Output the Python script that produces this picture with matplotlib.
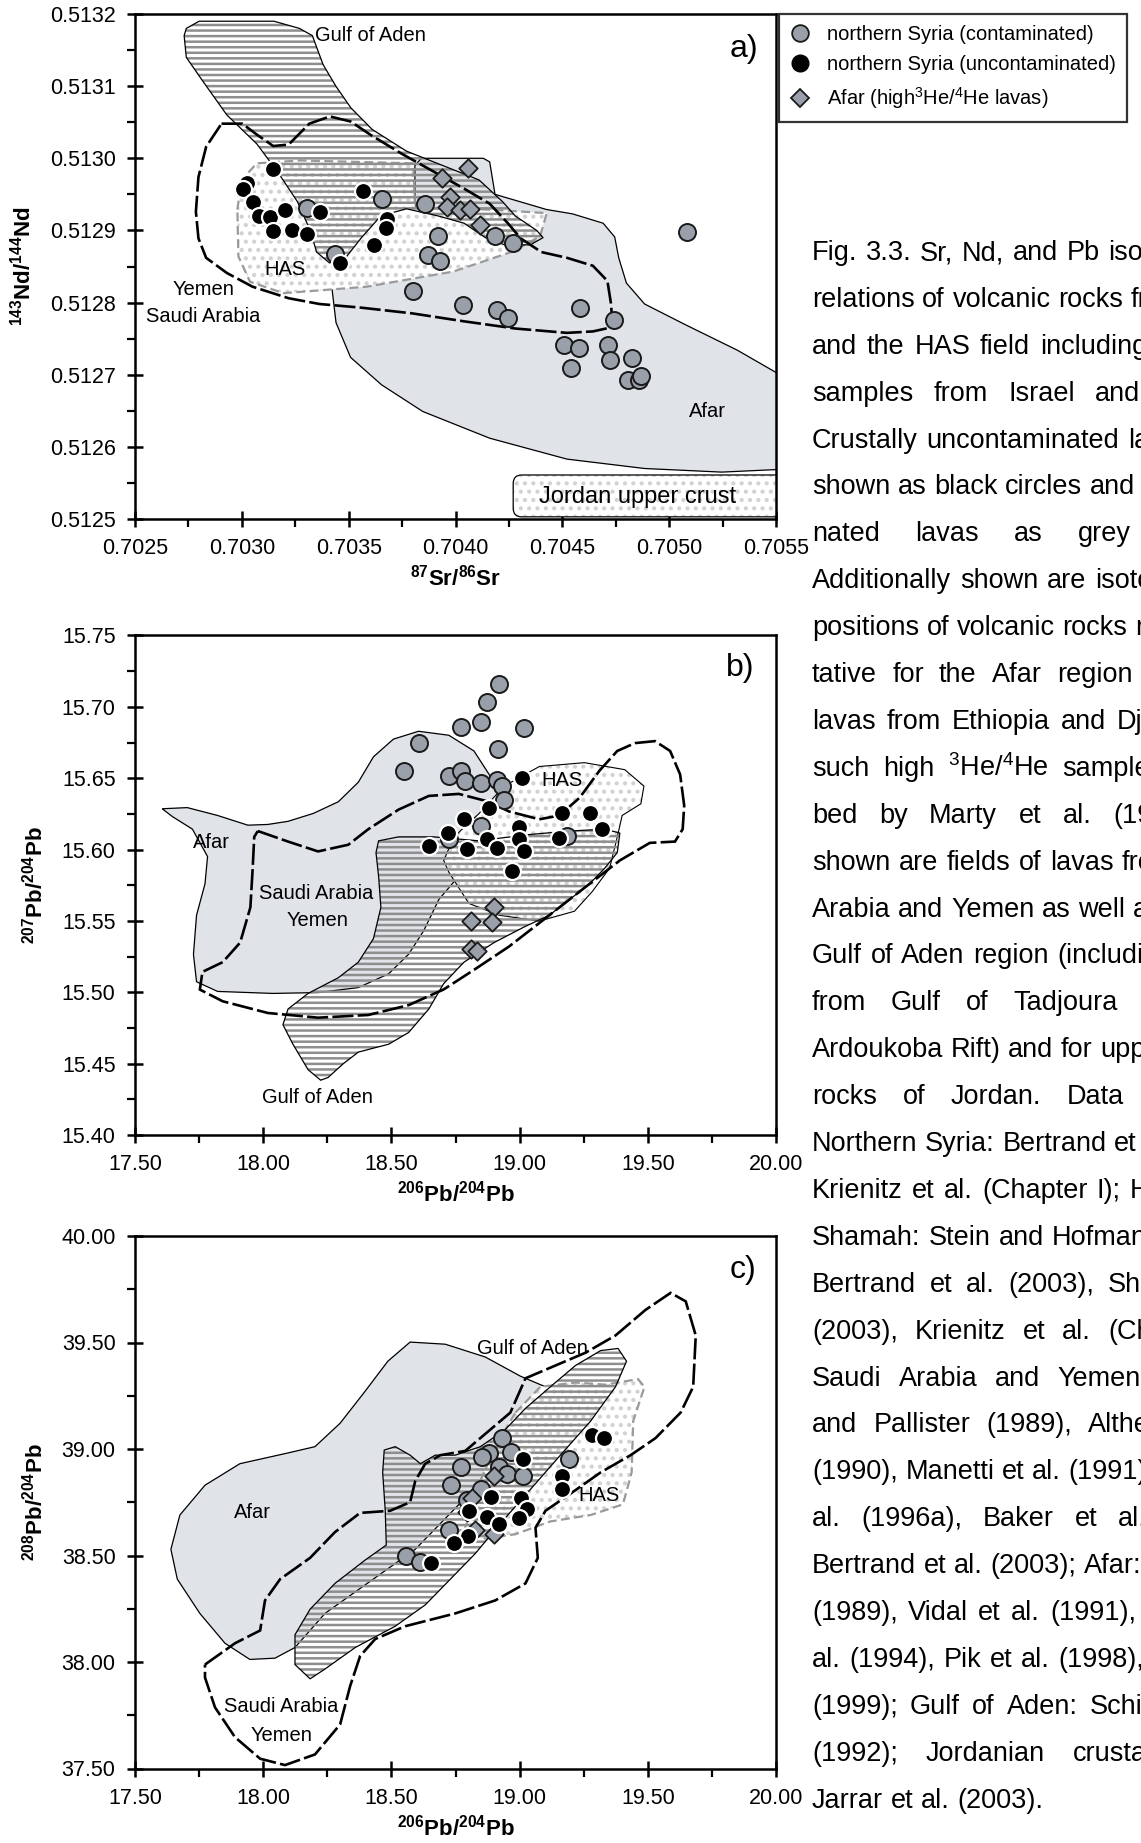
import matplotlib
matplotlib.use('Agg')
import matplotlib.pyplot as plt
from matplotlib.patches import Polygon, FancyBboxPatch
from matplotlib.lines import Line2D
from matplotlib.ticker import MultipleLocator, FormatStrFormatter

plt.rcParams['font.family'] = ['Liberation Sans', 'DejaVu Sans']
plt.rcParams['mathtext.fontset'] = 'custom'
plt.rcParams['mathtext.rm'] = 'Liberation Sans'
plt.rcParams['mathtext.it'] = 'Liberation Sans:italic'
plt.rcParams['mathtext.bf'] = 'Liberation Sans:bold'
plt.rcParams['hatch.linewidth'] = 1.8

# ---------------- a) 87Sr/86Sr vs 143Nd/144Nd ----------------
a_grey_sr = [0.703304, 0.703655, 0.703436, 0.703857, 0.703919, 0.703873, 0.703927,
             0.704185, 0.704270, 0.703800, 0.704037, 0.704196, 0.704247, 0.704510,
             0.704583, 0.704740, 0.704576, 0.704542, 0.704716, 0.704723, 0.704824,
             0.704807, 0.704860, 0.704868, 0.705085]
a_grey_nd = [0.512931, 0.512943, 0.512868, 0.512936, 0.512892, 0.512866, 0.512857,
             0.512892, 0.512882, 0.512816, 0.512797, 0.512790, 0.512779, 0.512741,
             0.512792, 0.512776, 0.512737, 0.512710, 0.512741, 0.512721, 0.512723,
             0.512693, 0.512692, 0.512698, 0.512898]
a_black_sr = [0.703144, 0.703026, 0.703007, 0.703051, 0.703082, 0.703132, 0.703202,
              0.703366, 0.703144, 0.703233, 0.703306, 0.703569, 0.703681, 0.703675,
              0.703619, 0.703459]
a_black_nd = [0.512985, 0.512966, 0.512957, 0.512940, 0.512920, 0.512919, 0.512929,
              0.512925, 0.512899, 0.512901, 0.512895, 0.512955, 0.512916, 0.512903,
              0.512880, 0.512855]
a_afar_sr = [0.704060, 0.703935, 0.703975, 0.703960, 0.704020, 0.704070, 0.704115]
a_afar_nd = [0.512987, 0.512972, 0.512946, 0.512933, 0.512929, 0.512930, 0.512908]

a_field_afar = [(0.703424, 0.512814), (0.703441, 0.512772), (0.703509, 0.512724), (0.703654, 0.512686),
                (0.703847, 0.512649), (0.704160, 0.512612), (0.704522, 0.512583), (0.704885, 0.512570),
                (0.705246, 0.512565), (0.705536, 0.512569), (0.705536, 0.512697), (0.705319, 0.512734),
                (0.705078, 0.512769), (0.704885, 0.512798), (0.704800, 0.512827), (0.704764, 0.512862),
                (0.704745, 0.512891), (0.704691, 0.512910), (0.704547, 0.512923), (0.704426, 0.512929),
                (0.704185, 0.512950), (0.704160, 0.512995), (0.704130, 0.513000), (0.703840, 0.513000),
                (0.703810, 0.512990), (0.703810, 0.512900), (0.703412, 0.512851)]
a_field_has = [(0.702979, 0.512929), (0.702999, 0.512970), (0.703070, 0.512993), (0.703272, 0.512997),
               (0.703802, 0.512993), (0.703810, 0.512931), (0.704146, 0.512929), (0.704427, 0.512924),
               (0.704396, 0.512892), (0.704270, 0.512871), (0.703990, 0.512843), (0.703584, 0.512822),
               (0.703194, 0.512813), (0.703038, 0.512829), (0.702984, 0.512864)]
a_field_gulf = [(0.70274, 0.51318), (0.70280, 0.51319), (0.70295, 0.51319), (0.70315, 0.51319),
                (0.70327, 0.51318), (0.70333, 0.51317), (0.70338, 0.51313), (0.70344, 0.51310),
                (0.70351, 0.51307), (0.70361, 0.51304), (0.70377, 0.51301), (0.70394, 0.51299),
                (0.70411, 0.51297), (0.70422, 0.51294), (0.70428, 0.51292), (0.70438, 0.51290),
                (0.70441, 0.51289), (0.70435, 0.51288), (0.70423, 0.51288), (0.70414, 0.51289),
                (0.70404, 0.51291), (0.70392, 0.51292), (0.70377, 0.51293), (0.70365, 0.51292),
                (0.70356, 0.51289), (0.70348, 0.51286), (0.70341, 0.512855), (0.70335, 0.51287),
                (0.70332, 0.51290), (0.70326, 0.51294), (0.70317, 0.51298), (0.70307, 0.51302),
                (0.70293, 0.51306), (0.70281, 0.51311), (0.70274, 0.51314), (0.70273, 0.51317)]
a_field_sa = [(0.702905, 0.513048), (0.703002, 0.513048), (0.703074, 0.513032), (0.703147, 0.513017),
              (0.703219, 0.513019), (0.703316, 0.513048), (0.703412, 0.513058), (0.703509, 0.513051),
              (0.703605, 0.513032), (0.703750, 0.513006), (0.703895, 0.512982), (0.704040, 0.512958),
              (0.704160, 0.512937), (0.704245, 0.512910), (0.704305, 0.512889), (0.704402, 0.512870),
              (0.704522, 0.512862), (0.704643, 0.512851), (0.704711, 0.512830), (0.704728, 0.512798),
              (0.704735, 0.512766), (0.704643, 0.512760), (0.704522, 0.512758), (0.704281, 0.512764),
              (0.704040, 0.512774), (0.703798, 0.512785), (0.703557, 0.512793), (0.703364, 0.512798),
              (0.703219, 0.512806), (0.703050, 0.512822), (0.702930, 0.512841), (0.702833, 0.512862),
              (0.702797, 0.512889), (0.702785, 0.512926), (0.702797, 0.512974), (0.702833, 0.513016)]
a_jordan = (0.70427, 0.512503, 0.00130, 0.000058)

# ---------------- b) 206Pb/204Pb vs 207Pb/204Pb ----------------
b_grey_206 = [18.920, 18.871, 18.851, 18.773, 19.018, 18.606, 18.916, 18.548, 18.724,
              18.773, 18.787, 18.851, 18.910, 18.930, 18.940, 18.851, 18.724, 19.185]
b_grey_207 = [15.7157, 15.7034, 15.6897, 15.6856, 15.6850, 15.6746, 15.6705, 15.6549, 15.6513,
              15.6554, 15.6478, 15.6467, 15.6486, 15.6445, 15.6350, 15.6165, 15.6075, 15.6094]
b_black_206 = [18.646, 18.720, 18.783, 18.793, 18.881, 18.871, 18.910, 18.999,
               18.999, 19.018, 18.969, 19.008, 19.165, 19.155, 19.273, 19.322]
b_black_207 = [15.6028, 15.6116, 15.6217, 15.6001, 15.6294, 15.6075, 15.6012, 15.6157,
               15.6075, 15.5993, 15.5847, 15.6500, 15.6258, 15.6080, 15.6258, 15.6143]
b_afar_206 = [18.900, 18.812, 18.891, 18.812, 18.832]
b_afar_207 = [15.560, 15.550, 15.549, 15.530, 15.529]

b_field_afar = [(17.606, 15.6286), (17.704, 15.6294), (17.822, 15.6239), (17.940, 15.6171), (18.018, 15.6176),
                (18.097, 15.6198), (18.195, 15.6253), (18.293, 15.6335), (18.371, 15.6472), (18.430, 15.6650),
                (18.508, 15.6774), (18.606, 15.6829), (18.724, 15.6801), (18.822, 15.6691), (18.881, 15.6527),
                (18.940, 15.6363), (18.979, 15.6198), (18.959, 15.6061), (18.881, 15.5951), (18.763, 15.5814),
                (18.685, 15.5650), (18.626, 15.5431), (18.567, 15.5266), (18.489, 15.5129), (18.371, 15.5033),
                (18.214, 15.4998), (18.038, 15.4992), (17.822, 15.5006), (17.740, 15.5074), (17.728, 15.5266),
                (17.740, 15.5540), (17.773, 15.5760), (17.783, 15.5951), (17.724, 15.6143), (17.646, 15.6231)]
b_field_has = [(18.704, 15.5924), (18.744, 15.6089), (18.842, 15.6253), (18.940, 15.6445), (19.077, 15.6582),
               (19.253, 15.6609), (19.410, 15.6560), (19.485, 15.6445), (19.473, 15.6321), (19.400, 15.6239),
               (19.381, 15.6089), (19.351, 15.5869), (19.283, 15.5705), (19.214, 15.5568), (19.077, 15.5499),
               (18.920, 15.5540), (18.802, 15.5623), (18.753, 15.5760), (18.724, 15.5842)]
b_field_gulf = [(18.450, 15.6061), (18.528, 15.6089), (18.665, 15.6089), (18.842, 15.6061), (19.018, 15.6102),
                (19.195, 15.6130), (19.332, 15.6143), (19.391, 15.6116), (19.381, 15.5979), (19.332, 15.5869),
                (19.273, 15.5760), (19.195, 15.5650), (19.116, 15.5540), (19.018, 15.5458), (18.900, 15.5348),
                (18.783, 15.5211), (18.704, 15.5061), (18.646, 15.4883), (18.567, 15.4718), (18.489, 15.4636),
                (18.371, 15.4581), (18.312, 15.4499), (18.253, 15.4403), (18.224, 15.4384), (18.175, 15.4458),
                (18.116, 15.4636), (18.077, 15.4773), (18.097, 15.4883), (18.175, 15.4992), (18.293, 15.5102),
                (18.371, 15.5211), (18.430, 15.5376), (18.459, 15.5595), (18.450, 15.5814), (18.440, 15.5979)]
b_field_sa = [(17.979, 15.6130), (18.097, 15.6056), (18.214, 15.5987), (18.332, 15.6034), (18.410, 15.6143),
              (18.528, 15.6280), (18.646, 15.6376), (18.763, 15.6390), (18.881, 15.6335), (18.959, 15.6267),
              (19.077, 15.6212), (19.155, 15.6239), (19.234, 15.6363), (19.312, 15.6554), (19.381, 15.6691),
              (19.450, 15.6746), (19.528, 15.6760), (19.587, 15.6691), (19.626, 15.6527), (19.642, 15.6308),
              (19.636, 15.6143), (19.606, 15.6056), (19.508, 15.6047), (19.391, 15.5924), (19.253, 15.5732),
              (19.116, 15.5540), (18.959, 15.5321), (18.822, 15.5157), (18.704, 15.5020), (18.567, 15.4910),
              (18.410, 15.4841), (18.214, 15.4822), (18.018, 15.4855), (17.842, 15.4937), (17.753, 15.5019),
              (17.763, 15.5143), (17.842, 15.5211), (17.910, 15.5348), (17.950, 15.5595), (17.959, 15.5869),
              (17.965, 15.6089)]

# ---------------- c) 206Pb/204Pb vs 208Pb/204Pb ----------------
c_grey_206 = [18.930, 18.881, 18.855, 18.968, 18.773, 18.920, 18.949, 19.012,
              18.734, 18.851, 19.193, 18.793, 18.724, 18.558, 18.613]
c_grey_208 = [39.051, 38.981, 38.961, 38.987, 38.915, 38.915, 38.881, 38.871,
              38.830, 38.810, 38.951, 38.760, 38.620, 38.499, 38.469]
c_black_206 = [19.012, 18.890, 19.004, 19.027, 18.998, 18.803, 18.871, 18.920,
               18.797, 18.744, 18.656, 19.164, 19.164, 19.281, 19.330]
c_black_208 = [38.955, 38.774, 38.770, 38.720, 38.674, 38.710, 38.680, 38.650,
               38.590, 38.560, 38.463, 38.871, 38.814, 39.067, 39.051]
c_afar_206 = [18.900, 18.816, 18.793, 18.828, 18.900]
c_afar_208 = [38.875, 38.770, 38.706, 38.620, 38.600]

c_field_afar = [(18.095, 38.981), (18.202, 39.011), (18.300, 39.121), (18.398, 39.272), (18.486, 39.412),
                (18.573, 39.502), (18.710, 39.492), (18.866, 39.432), (19.003, 39.342), (19.140, 39.272),
                (19.101, 39.171), (18.984, 39.051), (18.886, 38.911), (18.788, 38.770), (18.691, 38.650),
                (18.593, 38.529), (18.476, 38.429), (18.359, 38.329), (18.241, 38.228), (18.124, 38.068),
                (18.046, 38.018), (17.948, 38.012), (17.851, 38.088), (17.753, 38.228), (17.665, 38.389),
                (17.640, 38.529), (17.675, 38.690), (17.773, 38.830), (17.909, 38.931)]
c_field_has = [(18.984, 39.171), (19.081, 39.292), (19.218, 39.312), (19.335, 39.302), (19.462, 39.328),
               (19.487, 39.292), (19.443, 39.131), (19.437, 38.890), (19.403, 38.740), (19.277, 38.690),
               (19.120, 38.660), (18.984, 38.600), (18.866, 38.579), (18.788, 38.630), (18.847, 38.850),
               (18.905, 39.011)]
c_field_gulf = [(18.183, 37.921), (18.241, 37.967), (18.359, 38.068), (18.515, 38.168), (18.632, 38.268),
                (18.730, 38.389), (18.827, 38.509), (18.925, 38.650), (19.042, 38.810), (19.159, 38.971),
                (19.277, 39.131), (19.374, 39.292), (19.417, 39.412), (19.384, 39.472), (19.316, 39.462),
                (19.218, 39.392), (19.120, 39.292), (19.023, 39.191), (18.944, 39.091), (18.847, 39.011),
                (18.749, 38.971), (18.671, 38.971), (18.613, 38.931), (18.573, 38.971), (18.515, 39.011),
                (18.472, 38.995), (18.466, 38.890), (18.476, 38.710), (18.480, 38.549), (18.398, 38.479),
                (18.280, 38.369), (18.183, 38.248), (18.124, 38.128), (18.124, 37.988)]
c_field_sa = [(17.773, 37.988), (17.890, 38.088), (17.988, 38.148), (18.007, 38.289), (18.066, 38.389),
              (18.183, 38.489), (18.280, 38.610), (18.378, 38.700), (18.495, 38.710), (18.573, 38.750),
              (18.593, 38.850), (18.632, 38.931), (18.691, 38.971), (18.788, 38.991), (18.964, 39.171),
              (19.023, 39.332), (19.140, 39.392), (19.257, 39.452), (19.374, 39.533), (19.491, 39.653),
              (19.589, 39.733), (19.648, 39.693), (19.687, 39.533), (19.677, 39.292), (19.628, 39.171),
              (19.530, 39.051), (19.433, 38.971), (19.316, 38.890), (19.198, 38.790), (19.101, 38.710),
              (19.062, 38.630), (19.071, 38.489), (19.023, 38.369), (18.905, 38.289), (18.749, 38.228),
              (18.554, 38.168), (18.437, 38.108), (18.378, 38.028), (18.339, 37.887), (18.300, 37.707),
              (18.202, 37.566), (18.085, 37.516), (17.988, 37.546), (17.890, 37.647), (17.812, 37.787),
              (17.773, 37.927)]

legend_labels = ['northern Syria (contaminated)', 'northern Syria (uncontaminated)',
                 'Afar (high$^{3}$He/$^{4}$He lavas)']

caption = [
    ('Fig. 3.3. Sr, Nd, and Pb isotope', 1108),
    ('relations of volcanic rocks from', 1127),
    ('and the HAS field including', 1040),
    ('samples from Israel and', 1095),
    ('Crustally uncontaminated lavas', 1128),
    ('shown as black circles and', 1087),
    ('nated lavas as grey', 1078),
    ('Additionally shown are isotope', 1095),
    ('positions of volcanic rocks representative', 1133),
    ('tative for the Afar region', 1057),
    ('lavas from Ethiopia and Djibouti', 1117),
    ('such high $^{3}$He/$^{4}$He samples', 1062),
    ('bed by Marty et al. (1996)', 1113),
    ('shown are fields of lavas from', 1122),
    ('Arabia and Yemen as well as', 1127),
    ('Gulf of Aden region (including', 1057),
    ('from Gulf of Tadjoura', 1013),
    ('Ardoukoba Rift) and for upper', 1100),
    ('rocks of Jordan. Data', 1067),
    ('Northern Syria: Bertrand et al.', 1128),
    ('Krienitz et al. (Chapter I); HAS', 1130),
    ('Shamah: Stein and Hofmann', 1052),
    ('Bertrand et al. (2003), Shaw', 1108),
    ('(2003), Krienitz et al. (Chapter', 1108),
    ('Saudi Arabia and Yemen', 1057),
    ('and Pallister (1989), Altherr', 1088),
    ('(1990), Manetti et al. (1991),', 1063),
    ('al. (1996a), Baker et al.', 1118),
    ('Bertrand et al. (2003); Afar: Hart', 1138),
    ('(1989), Vidal et al. (1991),', 1050),
    ('al. (1994), Pik et al. (1998),', 1058),
    ('(1999); Gulf of Aden: Schilling', 1090),
    ('(1992); Jordanian crustal', 1073),
    ('Jarrar et al. (2003).', None),
]

GREY_PT = '#9aa0a9'
AFAR_FILL = '#e0e3e8'
STRIPE = '#8e8e8e'
STIPPLE = '#d2d2d2'
W, H = 1141, 1843

fig = plt.figure(figsize=(W / 100, H / 100), dpi=100)


def add_axes(top, bottom, left=135, right=776):
    return fig.add_axes([left / W, 1 - bottom / H, (right - left) / W, (bottom - top) / H])


def fields(ax, afar, has, gulf, sa, has_style):
    ax.add_patch(Polygon(afar, closed=True, fc=AFAR_FILL, ec='black', lw=0.9, zorder=1))
    ax.add_patch(Polygon(has, closed=True, fc='white', ec=STIPPLE, hatch='..', lw=0, zorder=2))
    ax.add_patch(Polygon(has, closed=True, fill=False, zorder=2.1, **has_style))
    ax.add_patch(Polygon(gulf, closed=True, fill=False, ec=STRIPE, hatch='---', lw=0, zorder=3))
    ax.add_patch(Polygon(gulf, closed=True, fill=False, ec='black', lw=0.9, zorder=3.1))
    ax.add_patch(Polygon(sa, closed=True, fill=False, ec='black', lw=1.9,
                         ls=(0, (8, 1.6)), zorder=4))


def points(ax, gx, gy, ax_, ay, bx, by):
    ax.scatter(gx, gy, s=150, c=GREY_PT, edgecolors='#1a1a1a', linewidths=1.4, zorder=6)
    ax.scatter(ax_, ay, s=88, marker='D', c=GREY_PT, edgecolors='#1a1a1a', linewidths=1.3, zorder=7)
    ax.scatter(bx, by, s=150, c='black', edgecolors='white', linewidths=1.6, zorder=8)


def style(ax, xlim, ylim, xmaj, ymaj, xfmt, yfmt, xlabel, ylabel):
    ax.set_xlim(*xlim)
    ax.set_ylim(*ylim)
    ax.xaxis.set_major_locator(MultipleLocator(xmaj))
    ax.xaxis.set_minor_locator(MultipleLocator(xmaj / 2))
    ax.yaxis.set_major_locator(MultipleLocator(ymaj))
    ax.yaxis.set_minor_locator(MultipleLocator(ymaj / 2))
    ax.xaxis.set_major_formatter(FormatStrFormatter(xfmt))
    ax.yaxis.set_major_formatter(FormatStrFormatter(yfmt))
    ax.tick_params(which='major', direction='inout', length=12, width=1.8, labelsize=15.5, pad=8)
    ax.tick_params(which='minor', direction='out', length=6, width=1.6)
    for s in ax.spines.values():
        s.set_linewidth(1.8)
    ax.set_xlabel(xlabel, fontsize=16, labelpad=4)
    ax.set_ylabel(ylabel, fontsize=16, labelpad=10)


# panel a
ax1 = add_axes(14, 519)
fields(ax1, a_field_afar, a_field_has, a_field_gulf, a_field_sa,
       dict(ec='#9a9a9a', lw=1.6, ls=(0, (4, 2))))
jx, jy, jw, jh = a_jordan
ax1.add_patch(FancyBboxPatch((jx, jy), jw, jh, boxstyle='round,pad=0,rounding_size=0.00004',
                             mutation_aspect=0.296, fc='white', ec=STIPPLE, hatch='..', lw=0, zorder=2))
ax1.add_patch(FancyBboxPatch((jx, jy), jw, jh, boxstyle='round,pad=0,rounding_size=0.00004',
                             mutation_aspect=0.296, fill=False, ec='black', lw=0.9, zorder=2.1))
points(ax1, a_grey_sr, a_grey_nd, a_afar_sr, a_afar_nd, a_black_sr, a_black_nd)
style(ax1, (0.7025, 0.7055), (0.5125, 0.5132), 0.0005, 0.0001, '%.4f', '%.4f',
      r'$\mathbf{^{87}Sr/^{86}Sr}$', r'$\mathbf{^{143}Nd/^{144}Nd}$')
for x, y, s, fs in [(0.70360, 0.51317, 'Gulf of Aden', 14.5), (0.70320, 0.512846, 'HAS', 14.5),
                    (0.70282, 0.512818, 'Yemen', 14.5), (0.70282, 0.51278, 'Saudi Arabia', 14.5),
                    (0.70518, 0.512649, 'Afar', 14.5), (0.70485, 0.51253, 'Jordan upper crust', 17),
                    (0.70535, 0.513152, 'a)', 23)]:
    ax1.text(x, y, s, ha='center', va='center', fontsize=fs, zorder=9)

# panel b
ax2 = add_axes(635.5, 1135)
fields(ax2, b_field_afar, b_field_has, b_field_gulf, b_field_sa, dict(ec='black', lw=0.8))
points(ax2, b_grey_206, b_grey_207, b_afar_206, b_afar_207, b_black_206, b_black_207)
style(ax2, (17.5, 20.0), (15.40, 15.75), 0.5, 0.05, '%.2f', '%.2f',
      r'$\mathbf{^{206}Pb/^{204}Pb}$', r'$\mathbf{^{207}Pb/^{204}Pb}$')
for x, y, s, fs in [(17.80, 15.605, 'Afar', 14.5), (18.205, 15.569, 'Saudi Arabia', 14.5),
                    (18.21, 15.550, 'Yemen', 14.5), (19.165, 15.6486, 'HAS', 14.5),
                    (18.21, 15.4266, 'Gulf of Aden', 14.5), (19.86, 15.727, 'b)', 23)]:
    ax2.text(x, y, s, ha='center', va='center', fontsize=fs, zorder=9)

# panel c
ax3 = add_axes(1236, 1768.5)
fields(ax3, c_field_afar, c_field_has, c_field_gulf, c_field_sa,
       dict(ec='#9a9a9a', lw=1.6, ls=(0, (4, 2))))
points(ax3, c_grey_206, c_grey_208, c_afar_206, c_afar_208, c_black_206, c_black_208)
style(ax3, (17.5, 20.0), (37.5, 40.0), 0.5, 0.5, '%.2f', '%.2f',
      r'$\mathbf{^{206}Pb/^{204}Pb}$', r'$\mathbf{^{208}Pb/^{204}Pb}$')
for x, y, s, fs in [(19.05, 39.47, 'Gulf of Aden', 14.5), (17.96, 38.70, 'Afar', 14.5),
                    (19.31, 38.78, 'HAS', 14.5), (18.07, 37.79, 'Saudi Arabia', 14.5),
                    (18.07, 37.655, 'Yemen', 14.5), (19.87, 39.84, 'c)', 23)]:
    ax3.text(x, y, s, ha='center', va='center', fontsize=fs, zorder=9)

# legend box at the top right
handles = [Line2D([], [], ls='none', marker='o', ms=12, mfc=GREY_PT, mec='#1a1a1a', mew=1.3),
           Line2D([], [], ls='none', marker='o', ms=12, mfc='black', mec='black'),
           Line2D([], [], ls='none', marker='D', ms=9, mfc=GREY_PT, mec='#1a1a1a', mew=1.3)]
leg = fig.legend(handles, legend_labels, loc='upper left', bbox_to_anchor=(779 / W, 1 - 14 / H),
                 frameon=True, fancybox=False, edgecolor='black', fontsize=14.5,
                 handlelength=1.0, handletextpad=0.85, labelspacing=0.55, borderpad=0.55,
                 borderaxespad=0)
leg.get_frame().set_linewidth(1.6)

# justified caption column on the right
renderer = fig.canvas.get_renderer()
cap_fs = 19.5
space = 0.278 * cap_fs * 100 / 72
x0 = 812
for i, (line, xlast) in enumerate(caption):
    yb = 1 - (260 + i * 46.9) / H
    words = line.split(' ')
    texts = [fig.text(0, yb, w, fontsize=cap_fs, va='baseline') for w in words]
    widths = [t.get_window_extent(renderer).width for t in texts]
    gap = space
    if xlast is not None and len(words) > 1:
        gap = max(space, (xlast - x0 - sum(widths[:-1])) / (len(words) - 1))
    x = x0
    for t, w in zip(texts, widths):
        t.set_x(x / W)
        x += w + gap

fig.savefig('out.png', dpi=100)
